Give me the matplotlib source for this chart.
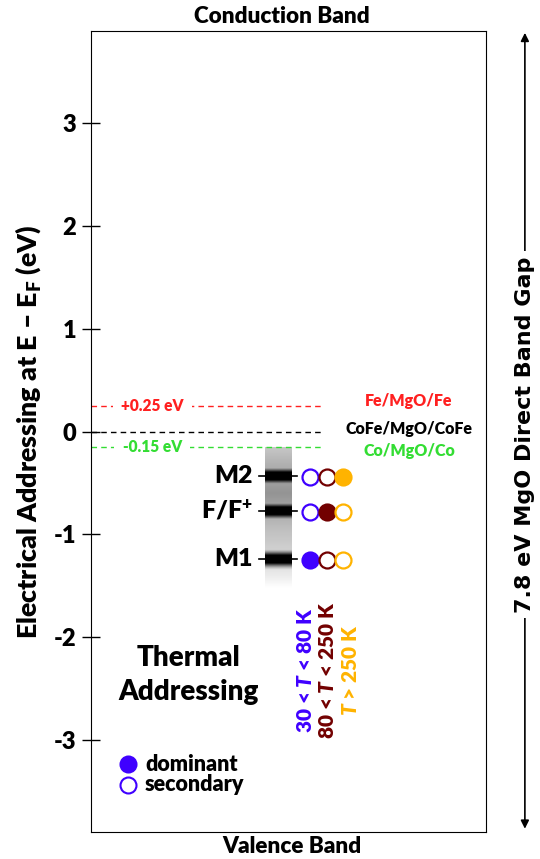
import matplotlib
matplotlib.use("Agg")
import matplotlib.pyplot as plt
from matplotlib import font_manager
import numpy as np

# data
yticks = [-3, -2, -1, 0, 1, 2, 3]
ref_levels = [0.25, 0.0, -0.15]
ref_names = ["Fe/MgO/Fe", "CoFe/MgO/CoFe", "Co/MgO/Co"]
ref_colors = ["#ff2020", "black", "#33dd33"]
ref_labels = ["+0.25 eV", None, "-0.15 eV"]
bands = ["M2", "F/F$^\\mathbf{+}$", "M1"]
band_levels = [-0.43, -0.77, -1.24]
# dominant flags per band, for the three temperature ranges
t_ranges = ["30 < $\\mathit{T}$ < 80 K", "80 < $\\mathit{T}$ < 250 K", "$\\mathit{T}$ > 250 K"]
t_colors = ["#3f00ff", "#720000", "#ffb300"]
dominant = [[False, False, True],
            [False, True, False],
            [True, False, False]]

W = "heavy"
fam = "DejaVu Sans"
for name in ["Lato", "Open Sans", "Noto Sans", "Roboto", "Liberation Sans"]:
    try:
        f = font_manager.findfont(font_manager.FontProperties(family=name, weight=W),
                                  fallback_to_default=False)
    except Exception:
        continue
    fam = name
    break

plt.rcParams["font.family"] = [fam, "DejaVu Sans"]
plt.rcParams["font.weight"] = W
plt.rcParams["mathtext.fontset"] = "custom"
plt.rcParams["mathtext.rm"] = fam + ":" + W
plt.rcParams["mathtext.bf"] = fam + ":" + W
plt.rcParams["mathtext.it"] = fam + ":italic:" + W

fig = plt.figure(figsize=(5.4, 8.59), dpi=100)
ax = fig.add_axes([0.1685, 0.0314, 0.7315, 0.9325])
ax.set_xlim(0, 10)
ax.set_ylim(-3.9, 3.9)
ax.set_xticks([])
ax.set_yticks(yticks)
ax.set_yticklabels([str(t) for t in yticks], fontsize=17, fontweight=W)
ax.tick_params(axis="y", direction="inout", length=13, width=1, pad=4)
ax.set_ylabel("Electrical Addressing at E \u2013 E$_\\mathbf{F}$ (eV)",
              fontsize=19.3, fontweight=W)
ax.yaxis.set_label_coords(-0.122, 0.5)

# reference Fermi levels
for lev, name, col, lab in zip(ref_levels, ref_names, ref_colors, ref_labels):
    ax.plot([0, 5.9], [lev, lev], ls=(0, (4, 3)), color=col, lw=1,
            zorder=4 if lab is None else 2)
    if lab:
        ax.text(1.55, lev, lab, color=col, fontsize=11.2, ha="center", va="center",
                bbox=dict(facecolor="white", edgecolor="none", pad=6))
    ax.text(8.05, lev + (0.05 if lev > 0 else (-0.04 if lev < 0 else 0.02)), name,
            color=col, fontsize=11.5, ha="center", va="center")

# band image
yy = np.linspace(-0.15, -1.52, 300)
bg = np.interp(yy, [-1.52, -1.4, -1.1, -0.95, -0.6, -0.3, -0.15],
               [0.0, 0.08, 0.2, 0.25, 0.42, 0.3, 0.22])
dark = bg.copy()
for lev in band_levels:
    dark = np.maximum(dark, np.clip(1.4 * np.exp(-((yy - lev) / 0.065) ** 2), 0, 1))
img = np.tile(dark[:, None], (1, 10))
ax.imshow(img, cmap="gray_r", vmin=0, vmax=1, extent=[4.41, 5.09, -1.52, -0.15],
          aspect="auto", zorder=1)

cx = [5.54, 5.97, 6.38]
for lev, name, dom in zip(band_levels, bands, dominant):
    ax.plot([4.25, 5.22], [lev, lev], color="black", lw=1.2, zorder=2)
    ax.text(4.1, lev, name, fontsize=18, ha="right", va="center")
    for x, c, d in zip(cx, t_colors, dom):
        ax.plot(x, lev - 0.015, "o", ms=11.5, mew=1.6, mec=c, mfc=c if d else "white",
                zorder=3)

for x, lab, c in zip([5.42, 6.0, 6.58], t_ranges, t_colors):
    ax.text(x, -2.32, lab, rotation=90, color=c, fontsize=15, ha="center", va="center")

ax.text(2.48, -2.37, "Thermal\nAddressing", fontsize=20, ha="center", va="center",
        linespacing=1.38)

ax.plot(0.94, -3.24, "o", ms=11.5, mew=1.5, mec=t_colors[0], mfc=t_colors[0])
ax.plot(0.94, -3.44, "o", ms=11.5, mew=1.5, mec=t_colors[0], mfc="white")
ax.text(1.37, -3.24, "dominant", fontsize=15.5, va="center")
ax.text(1.37, -3.44, "secondary", fontsize=15.5, va="center")

fig.text(0.522, 0.981, "Conduction Band", fontsize=16.2, ha="center", va="center")
fig.text(0.541, 0.015, "Valence Band", fontsize=16.2, ha="center", va="center")

# band gap arrow
fig.patches.append(matplotlib.patches.FancyArrowPatch(
    (0.972, 0.032), (0.972, 0.965), transform=fig.transFigure,
    arrowstyle="<|-|>", mutation_scale=12, color="black", lw=1.2))
fig.text(0.972, 0.494, "7.8 eV MgO Direct Band Gap", rotation=90, fontsize=16,
         ha="center", va="center", family=["Liberation Sans Narrow", "DejaVu Sans"],
         fontweight="bold", bbox=dict(facecolor="white", edgecolor="none", pad=4))

fig.savefig("out.png", dpi=100)
